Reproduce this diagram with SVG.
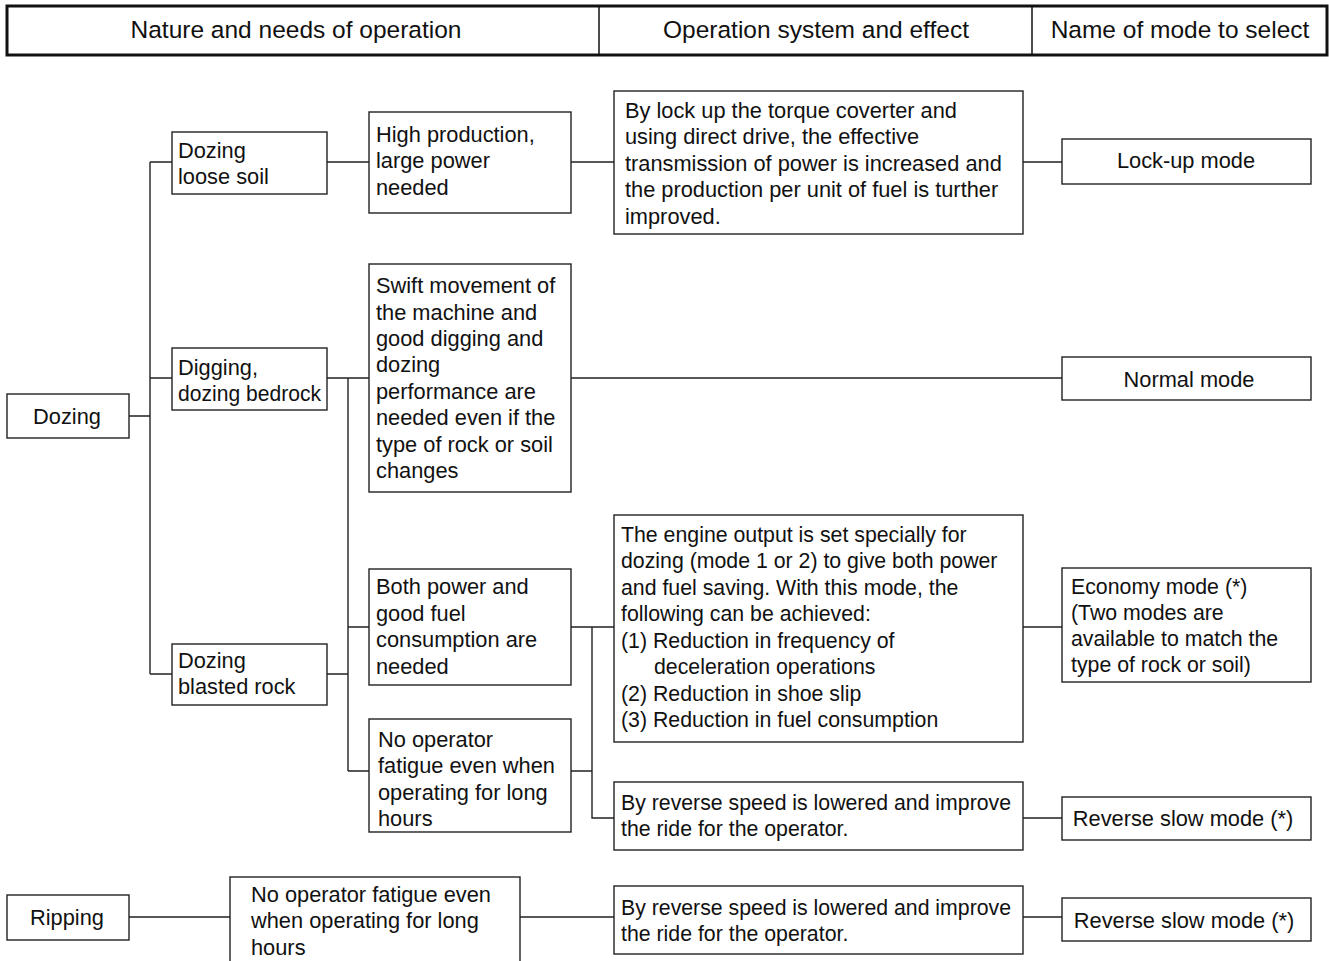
<svg xmlns="http://www.w3.org/2000/svg" width="1329" height="961" viewBox="0 0 1329 961">
<style>
.b{fill:#fff;stroke:#222;stroke-width:1.4}
.t{font-family:"Liberation Sans",Arial,sans-serif;font-size:21.8px;fill:#111}
.s{font-size:21.3px}
.h{font-family:"Liberation Sans",Arial,sans-serif;font-size:24.5px;fill:#111;text-anchor:middle}
.c{text-anchor:middle}
.l{fill:none;stroke:#222;stroke-width:1.4}
</style>
<rect width="1329" height="961" fill="#fff"/>
<g id="header">
<rect x="7" y="6" width="1320" height="49" fill="#fff" stroke="#111" stroke-width="3"/>
<line x1="599" y1="6" x2="599" y2="55" stroke="#111" stroke-width="1.5"/>
<line x1="1032" y1="6" x2="1032" y2="55" stroke="#111" stroke-width="1.5"/>
<text class="h" x="296" y="38">Nature and needs of operation</text>
<text class="h" x="816" y="38">Operation system and effect</text>
<text class="h" x="1180" y="38">Name of mode to select</text>
</g>
<g id="connectors">
<path class="l" d="M129,416H150M150,162V674M150,162H172M150,378H172M150,674H172"/>
<path class="l" d="M327,162H369M571,162H614M1023,162H1062"/>
<path class="l" d="M327,378H369M571,378H1062M348,378V771M327,674H348M348,627H369M348,771H369"/>
<path class="l" d="M571,627H614M571,771H592M592,627V818H614M1023,627H1062M1023,818H1062"/>
<path class="l" d="M129,917H230M520,917H614M1023,917H1062"/>
</g>
<g id="dozing"><rect class="b" x="7" y="394" width="122" height="44"/><text class="t c" x="67" y="424">Dozing</text></g>
<g id="loose-soil"><rect class="b" x="172" y="132" width="155" height="62"/><text class="t" x="178" y="158">Dozing</text><text class="t" x="178" y="184">loose soil</text></g>
<g id="bedrock"><rect class="b" x="172" y="348" width="155" height="62"/><text class="t" x="178" y="375">Digging,</text><text class="t" x="178" y="401" textLength="143" lengthAdjust="spacingAndGlyphs">dozing bedrock</text></g>
<g id="blasted-rock"><rect class="b" x="172" y="644" width="155" height="61"/><text class="t" x="178" y="668">Dozing</text><text class="t" x="178" y="694">blasted rock</text></g>
<g id="high-production"><rect class="b" x="369" y="112" width="202" height="101"/><text class="t" x="376" y="142">High production,</text><text class="t" x="376" y="168">large power</text><text class="t" x="376" y="195">needed</text></g>
<g id="swift"><rect class="b" x="369" y="264" width="202" height="228"/>
<text class="t" x="376" y="293">Swift movement of</text><text class="t" x="376" y="320">the machine and</text><text class="t" x="376" y="346">good digging and</text><text class="t" x="376" y="372">dozing</text><text class="t" x="376" y="399">performance are</text><text class="t" x="376" y="425">needed even if the</text><text class="t" x="376" y="452">type of rock or soil</text><text class="t" x="376" y="478">changes</text></g>
<g id="both-power"><rect class="b" x="369" y="569" width="202" height="116"/><text class="t" x="376" y="594">Both power and</text><text class="t" x="376" y="621">good fuel</text><text class="t" x="376" y="647">consumption are</text><text class="t" x="376" y="674">needed</text></g>
<g id="no-fatigue"><rect class="b" x="369" y="719" width="202" height="113"/><text class="t" x="378" y="747">No operator</text><text class="t" x="378" y="773">fatigue even when</text><text class="t" x="378" y="800">operating for long</text><text class="t" x="378" y="826">hours</text></g>
<g id="lockup-effect"><rect class="b" x="614" y="91" width="409" height="143"/>
<text class="t" x="625" y="118">By lock up the torque coverter and</text><text class="t" x="625" y="144">using direct drive, the effective</text><text class="t" x="625" y="171">transmission of power is increased and</text><text class="t" x="625" y="197">the production per unit of fuel is turther</text><text class="t" x="625" y="224">improved.</text></g>
<g id="economy-effect"><rect class="b" x="614" y="515" width="409" height="227"/>
<text class="t s" x="621" y="542">The engine output is set specially for</text><text class="t s" x="621" y="568">dozing (mode 1 or 2) to give both power</text><text class="t s" x="621" y="595">and fuel saving. With this mode, the</text><text class="t s" x="621" y="621">following can be achieved:</text><text class="t s" x="621" y="648">(1) Reduction in frequency of</text><text class="t s" x="654" y="674">deceleration operations</text><text class="t s" x="621" y="701">(2) Reduction in shoe slip</text><text class="t s" x="621" y="727">(3) Reduction in fuel consumption</text></g>
<g id="reverse-effect-1"><rect class="b" x="614" y="782" width="409" height="68"/><text class="t" x="621" y="810" textLength="390" lengthAdjust="spacingAndGlyphs">By reverse speed is lowered and improve</text><text class="t s" x="621" y="836">the ride for the operator.</text></g>
<g id="lockup-mode"><rect class="b" x="1062" y="139" width="249" height="45"/><text class="t c" x="1186" y="168">Lock-up mode</text></g>
<g id="normal-mode"><rect class="b" x="1062" y="357" width="249" height="43"/><text class="t c" x="1189" y="387">Normal mode</text></g>
<g id="economy-mode"><rect class="b" x="1062" y="568" width="249" height="114"/><text class="t s" x="1071" y="594">Economy mode (*)</text><text class="t s" x="1071" y="620">(Two modes are</text><text class="t s" x="1071" y="646">available to match the</text><text class="t s" x="1071" y="672">type of rock or soil)</text></g>
<g id="reverse-mode-1"><rect class="b" x="1062" y="797" width="249" height="43"/><text class="t c" x="1183" y="826">Reverse slow mode (*)</text></g>
<g id="ripping"><rect class="b" x="7" y="895" width="122" height="45"/><text class="t c" x="67" y="925">Ripping</text></g>
<g id="ripping-need"><rect class="b" x="230" y="877" width="290" height="90"/><text class="t" x="251" y="902">No operator fatigue even</text><text class="t" x="251" y="928">when operating for long</text><text class="t" x="251" y="955">hours</text></g>
<g id="reverse-effect-2"><rect class="b" x="614" y="886" width="409" height="68"/><text class="t" x="621" y="915" textLength="390" lengthAdjust="spacingAndGlyphs">By reverse speed is lowered and improve</text><text class="t s" x="621" y="941">the ride for the operator.</text></g>
<g id="reverse-mode-2"><rect class="b" x="1062" y="898" width="249" height="43"/><text class="t c" x="1184" y="928">Reverse slow mode (*)</text></g>
</svg>
